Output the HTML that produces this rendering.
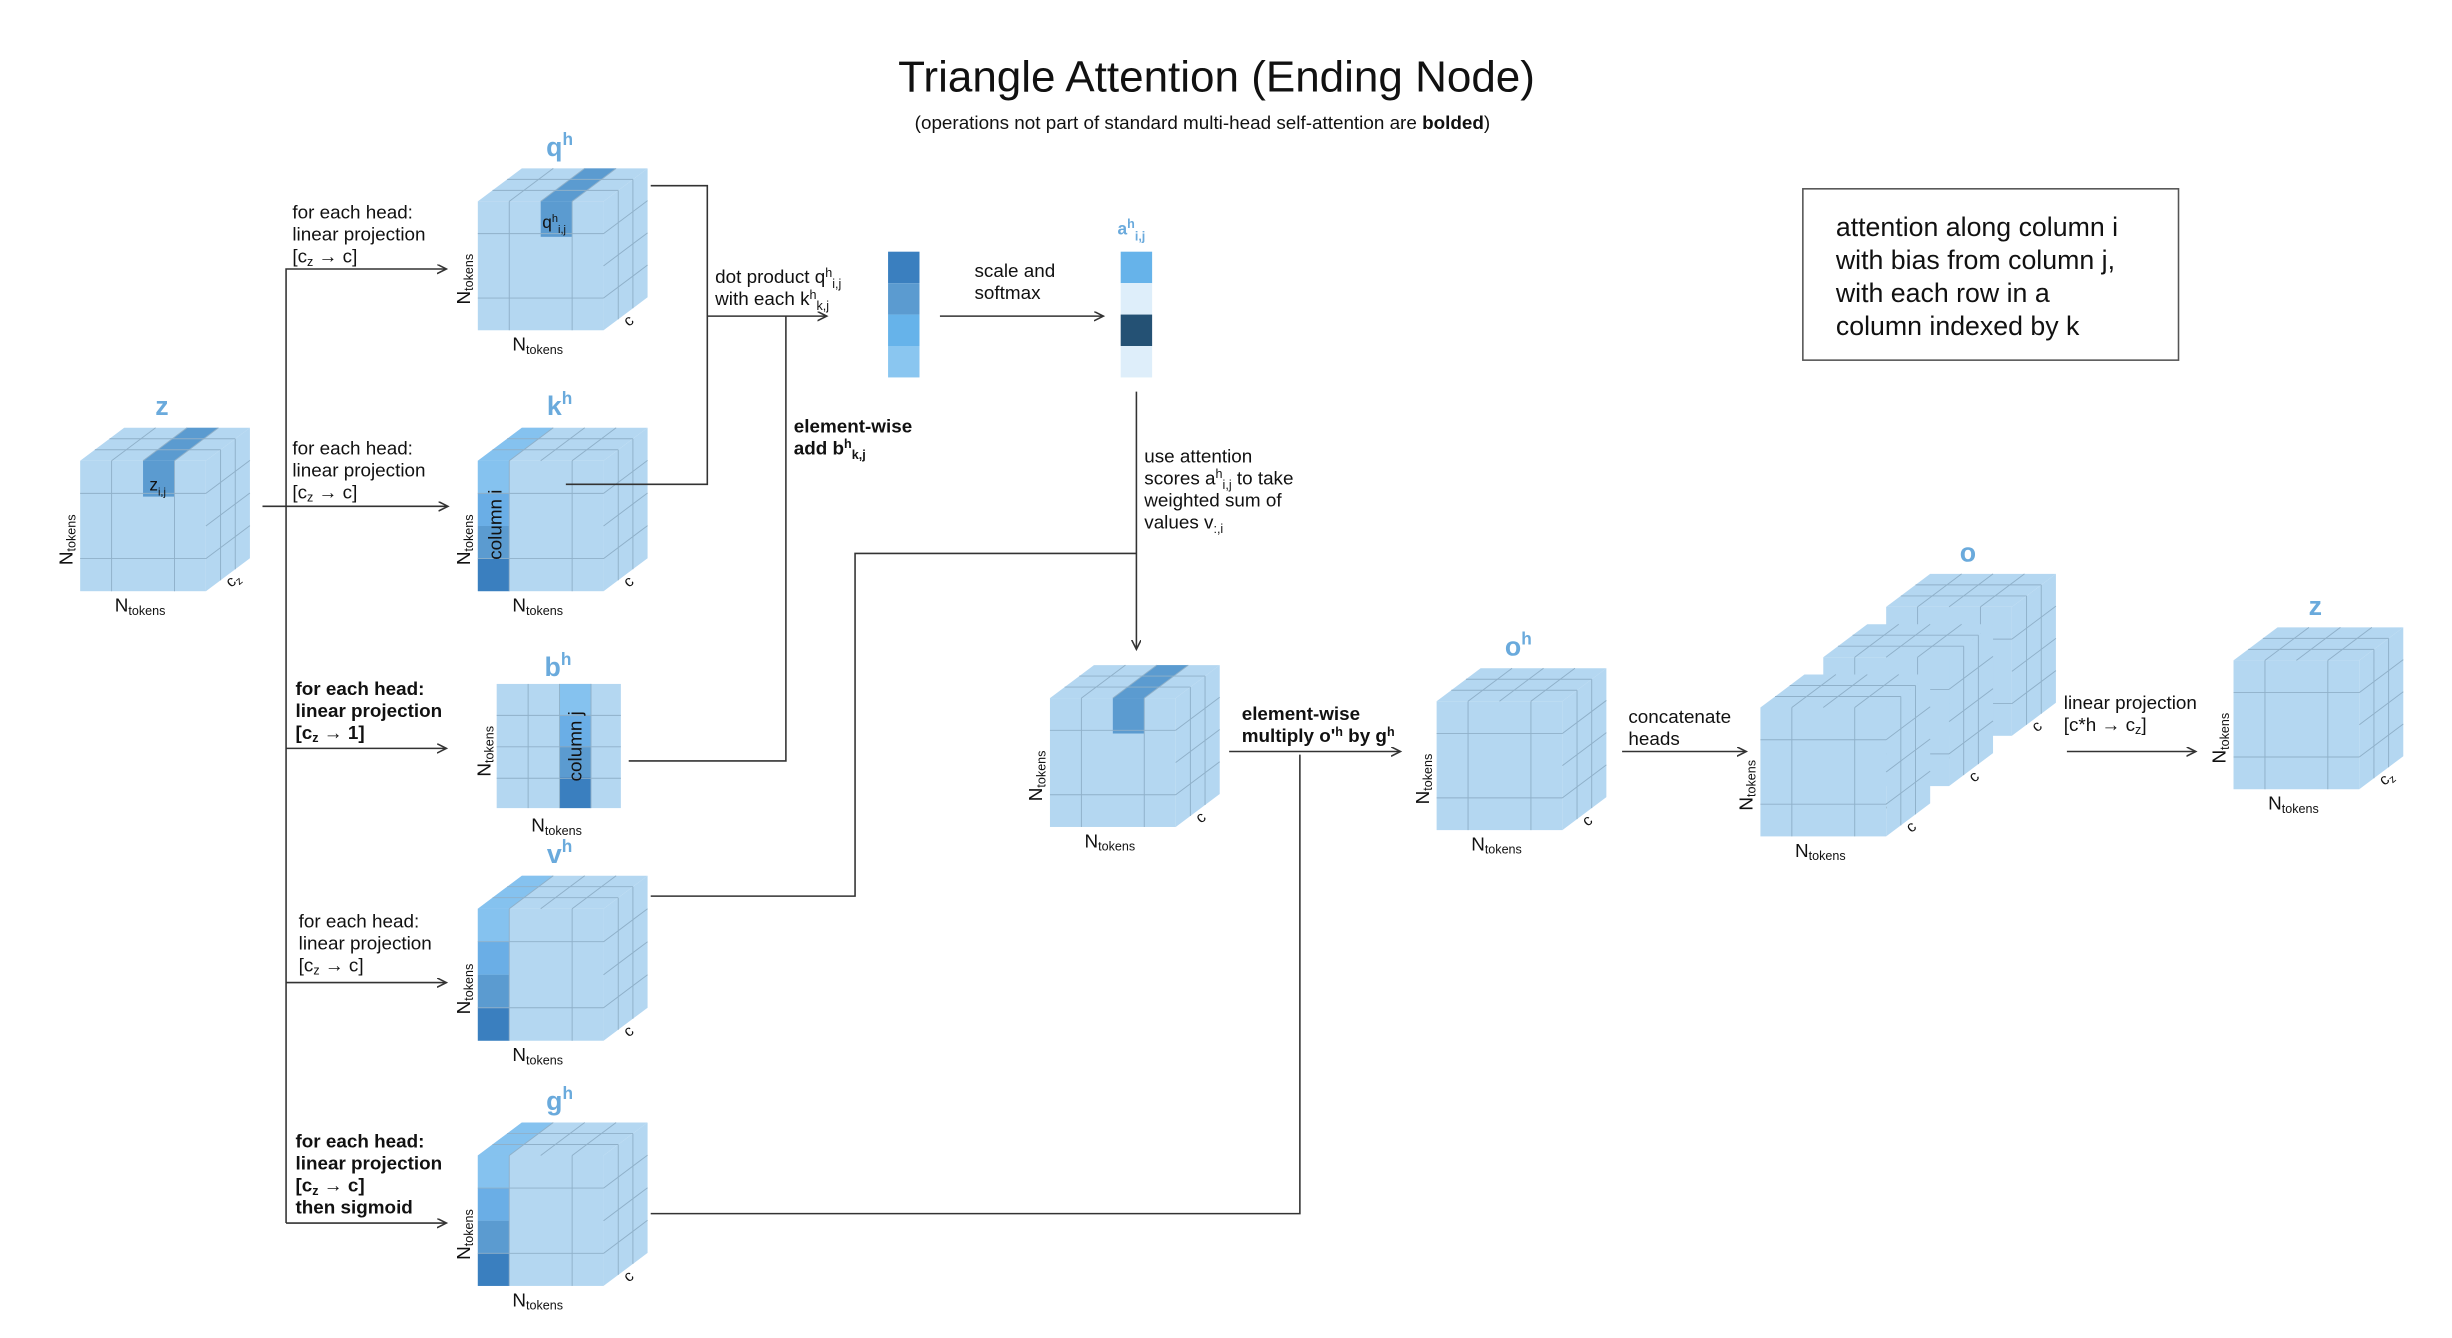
<!DOCTYPE html>
<html><head><meta charset="utf-8">
<style>
html,body{margin:0;padding:0;background:#fff;}
svg{display:block;}
text{font-family:"Liberation Sans",sans-serif;fill:#111;}
.lbl{font-size:12px;}
.b{font-weight:bold;}
.hd{font-size:17px;font-weight:bold;fill:#6aaadc;}
.ln{stroke:#333;stroke-width:1;fill:none;}
</style></head>
<body>
<svg id="s" width="2452" height="1338" viewBox="0 0 1560 851" xmlns="http://www.w3.org/2000/svg">
<defs>
<marker id="ar" markerWidth="8" markerHeight="8" refX="6" refY="3" orient="auto" markerUnits="userSpaceOnUse">
<path d="M0,0 L6,3 L0,6" fill="none" stroke="#333" stroke-width="1"/>
</marker>
</defs>
<text x="774" y="58" text-anchor="middle" font-size="28">Triangle Attention (Ending Node)</text>
<text x="765" y="82" text-anchor="middle" font-size="12">(operations not part of standard multi-head self-attention are <tspan class="b">bolded</tspan>)</text>

<g id="cubes"></g>

<g>
<path class="ln" d="M182,778 L182,171 L284,171" marker-end="url(#ar)"/>
<path class="ln" d="M167,322 L285,322" marker-end="url(#ar)"/>
<path class="ln" d="M182,476 L284,476" marker-end="url(#ar)"/>
<path class="ln" d="M182,625 L284,625" marker-end="url(#ar)"/>
<path class="ln" d="M182,778 L284,778" marker-end="url(#ar)"/>
<path class="ln" d="M414,118 L450,118 L450,308 L360,308"/>
<path class="ln" d="M450,201 L526,201" marker-end="url(#ar)"/>
<path class="ln" d="M400,484 L500,484 L500,201"/>
<path class="ln" d="M598,201 L702,201" marker-end="url(#ar)"/>
<path class="ln" d="M723,249 L723,413" marker-end="url(#ar)"/>
<path class="ln" d="M414,570 L544,570 L544,352 L723,352"/>
<path class="ln" d="M782,478 L891,478" marker-end="url(#ar)"/>
<path class="ln" d="M414,772 L827,772 L827,480"/>
<path class="ln" d="M1032,478 L1111,478" marker-end="url(#ar)"/>
<path class="ln" d="M1315,478 L1397,478" marker-end="url(#ar)"/>
</g>

<g>
<rect x="565" y="160" width="20" height="20" fill="#3a7fbf"/>
<rect x="565" y="180" width="20" height="20" fill="#5b9bd0"/>
<rect x="565" y="200" width="20" height="20" fill="#66b3ea"/>
<rect x="565" y="220" width="20" height="20" fill="#8ac6f0"/>
</g>
<g>
<rect x="713" y="160" width="20" height="20" fill="#66b3ea"/>
<rect x="713" y="180" width="20" height="20" fill="#deeefa"/>
<rect x="713" y="200" width="20" height="20" fill="#245174"/>
<rect x="713" y="220" width="20" height="20" fill="#deeefa"/>
</g>
<text x="711" y="149" font-size="11" font-weight="bold" style="fill:#6aaadc">a<tspan dy="-4" font-size="8">h</tspan><tspan dy="8" font-size="8">i,j</tspan></text>

<g class="lbl">
<text x="186" y="139">for each head:<tspan x="186" dy="14">linear projection</tspan><tspan x="186" dy="14">[c</tspan><tspan font-size="8" dy="2">z</tspan><tspan dy="-2"> → c]</tspan></text>
<text x="186" y="289">for each head:<tspan x="186" dy="14">linear projection</tspan><tspan x="186" dy="14">[c</tspan><tspan font-size="8" dy="2">z</tspan><tspan dy="-2"> → c]</tspan></text>
<text x="188" y="442" class="b">for each head:<tspan x="188" dy="14">linear projection</tspan><tspan x="188" dy="14">[c</tspan><tspan font-size="8" dy="2">z</tspan><tspan dy="-2"> → 1]</tspan></text>
<text x="190" y="590">for each head:<tspan x="190" dy="14">linear projection</tspan><tspan x="190" dy="14">[c</tspan><tspan font-size="8" dy="2">z</tspan><tspan dy="-2"> → c]</tspan></text>
<text x="188" y="730" class="b">for each head:<tspan x="188" dy="14">linear projection</tspan><tspan x="188" dy="14">[c</tspan><tspan font-size="8" dy="2">z</tspan><tspan dy="-2"> → c]</tspan><tspan x="188" dy="14">then sigmoid</tspan></text>
<text x="455" y="180">dot product q<tspan font-size="8" dy="-4">h</tspan><tspan font-size="8" dy="7">i,j</tspan><tspan x="455" dy="11">with each k</tspan><tspan font-size="8" dy="-4">h</tspan><tspan font-size="8" dy="7">k,j</tspan></text>
<text x="505" y="275" class="b">element-wise<tspan x="505" dy="14">add b</tspan><tspan font-size="8" dy="-4">h</tspan><tspan font-size="8" dy="7">k,j</tspan></text>
<text x="620" y="176">scale and<tspan x="620" dy="14">softmax</tspan></text>
<text x="728" y="294">use attention<tspan x="728" dy="14">scores a</tspan><tspan font-size="8" dy="-4">h</tspan><tspan font-size="8" dy="7">i,j</tspan><tspan dy="-3"> to take</tspan><tspan x="728" dy="14">weighted sum of</tspan><tspan x="728" dy="14">values v</tspan><tspan font-size="8" dy="3">:,i</tspan></text>
<text x="790" y="458" class="b">element-wise<tspan x="790" dy="14">multiply o'</tspan><tspan font-size="8" dy="-4">h</tspan><tspan dy="4"> by g</tspan><tspan font-size="8" dy="-4">h</tspan></text>
<text x="1036" y="460">concatenate<tspan x="1036" dy="14">heads</tspan></text>
<text x="1313" y="451">linear projection<tspan x="1313" dy="14">[c*h → c</tspan><tspan font-size="8" dy="2">z</tspan><tspan dy="-2">]</tspan></text>
</g>

<g>
<rect x="1147" y="120" width="239" height="109" fill="#fff" stroke="#555" stroke-width="1"/>
<text x="1168" y="150" font-size="17">attention along column i<tspan x="1168" dy="21">with bias from column j,</tspan><tspan x="1168" dy="21">with each row in a</tspan><tspan x="1168" dy="21">column indexed by k</tspan></text>
</g>

<script>
const NS='http://www.w3.org/2000/svg';
const G=document.getElementById('cubes');
const BASE='#b4d7f1', GRID='#8fb0c9';
function mk(tag,attrs,parent){const e=document.createElementNS(NS,tag);for(const k in attrs)e.setAttribute(k,attrs[k]);(parent||G).appendChild(e);return e;}
// segs: array of [string, fontSize|null, dy|null]
function txt(x,y,segs,attrs,parent){
  const t=mk('text',Object.assign({x:x,y:y},attrs||{}),parent);
  if(typeof segs==='string')segs=[[segs]];
  segs.forEach(s=>{
    const sp=document.createElementNS(NS,'tspan');
    if(s[1])sp.setAttribute('font-size',s[1]);
    if(s[2])sp.setAttribute('dy',s[2]);
    sp.textContent=s[0];
    t.appendChild(sp);
  });
  return t;
}
const NT=[['N'],['tokens',8,2]];
function cube(name,x,y,w,h,o){
  o=o||{};const dx=28,dy=21;
  const g=mk('g',{});
  
  
  const P=(a)=>a.map(p=>p.join(',')).join(' ');
  mk('polygon',{points:P([[x,y],[x+dx,y-dy],[x+w+dx,y-dy],[x+w,y]]),fill:BASE},g);
  mk('polygon',{points:P([[x+w,y],[x+w+dx,y-dy],[x+w+dx,y+h-dy],[x+w,y+h]]),fill:BASE},g);
  mk('rect',{x:x,y:y,width:w,height:h,fill:BASE},g);
  if(o.topCol!==undefined){const c=o.topCol,cw=w/4;
    mk('polygon',{points:P([[x+c*cw,y],[x+c*cw+dx,y-dy],[x+(c+1)*cw+dx,y-dy],[x+(c+1)*cw,y]]),fill:o.topColor},g);}
  if(o.cells){o.cells.forEach(cl=>{mk('rect',{x:x+cl[0]*w/4,y:y+cl[1]*h/4,width:w/4,height:cl[2]*h/4,fill:cl[3]},g);});}
  const ln=(x1,y1,x2,y2)=>mk('line',{x1:x1,y1:y1,x2:x2,y2:y2,stroke:GRID,'stroke-width':0.6},g);
  ln(x+w/4,y,x+w/4,y+h);ln(x+w*0.75,y,x+w*0.75,y+h);
  ln(x,y+h*0.25,x+w,y+h*0.25);ln(x,y+h*0.75,x+w,y+h*0.75);
  [1/3,2/3].forEach(f=>ln(x+w+dx*f,y-dy*f,x+w+dx*f,y+h-dy*f));
  [0.25,0.5,0.75].forEach(f=>ln(x+w,y+h*f,x+w+dx,y+h*f-dy));
  [0.25,0.5,0.75].forEach(f=>ln(x+w*f,y,x+w*f+dx,y-dy));
  [1/3,2/3].forEach(f=>ln(x+dx*f,y-dy*f,x+w+dx*f,y-dy*f));
  txt(x+w/2-18,y+h+13,NT,{'font-size':12},g);
  txt(0,0,NT,{'font-size':12,transform:'translate('+(x-5)+','+(y+h*0.8)+') rotate(-90)'},g);
  txt(x+w+16,y+h-2,o.depth||'c',{'font-size':10,transform:'rotate(-40 '+(x+w+16)+' '+(y+h-2)+')'},g);
  if(o.head){txt(x+w/2+12,y-dy-8,o.head,{'class':'hd','text-anchor':'middle'},g);}
  return g;
}
const C1='#85c2ef',C2='#6aaee6',C3='#5b9bd0',C4='#3a7fbf';
const colCells=[[0,0,1,C1],[0,1,1,C2],[0,2,1,C3],[0,3,1,C4]];
const H=(l)=>[[l],['h',11,-7]];
const CZ=[['c'],['z',7,2]];
const zc=cube('z-input-cube',51,293,80,83,{head:'z',topCol:2,topColor:C3,cells:[[2,0,1.1,C3]],depth:CZ});
txt(95,312,[['z'],['i,j',7,3]],{'font-size':11},zc);
const qc=cube('q-cube',304,128,80,82,{head:H('q'),topCol:2,topColor:C3,cells:[[2,0,1.1,C3]]});
txt(345,145,[['q'],['h',7,-4],['i,j',7,7]],{'font-size':11},qc);
const kc=cube('k-cube',304,293,80,83,{head:H('k'),topCol:0,topColor:C1,cells:colCells});
txt(0,0,'column i',{'font-size':12,transform:'translate(319,356) rotate(-90)'},kc);
cube('v-cube',304,578,80,84,{head:H('v'),topCol:0,topColor:C1,cells:colCells});
cube('g-cube',304,735,80,83,{head:H('g'),topCol:0,topColor:C1,cells:colCells});
cube('weighted-sum-cube',668,444,80,82,{topCol:2,topColor:C3,cells:[[2,0,1.1,C3]]});
cube('o-head-cube',914,446,80,82,{head:H('o')});
cube('o-concat-back',1200,386,80,82,{head:'o'});
cube('o-concat-mid',1160,418,80,82,{});
cube('o-concat-front',1120,450,80,82,{});
cube('z-output-cube',1421,420,80,82,{head:'z',depth:CZ});
const bg=mk('g',{});


mk('rect',{x:316,y:435,width:79,height:79,fill:BASE},bg);
[[0,C1],[1,C2],[2,C3],[3,C4]].forEach(c=>mk('rect',{x:356,y:435+c[0]*19.75,width:20,height:19.75,fill:c[1]},bg));
[336,356,376].forEach(v=>mk('line',{x1:v,y1:435,x2:v,y2:514,stroke:GRID,'stroke-width':0.6},bg));
[455,475,495].forEach(v=>mk('line',{x1:316,y1:v,x2:395,y2:v,stroke:GRID,'stroke-width':0.6},bg));
txt(0,0,'column j',{'font-size':12,transform:'translate(370,497) rotate(-90)'},bg);
txt(338,529,NT,{'font-size':12},bg);
txt(0,0,NT,{'font-size':12,transform:'translate(312,494) rotate(-90)'},bg);
txt(355,430,H('b'),{'class':'hd','text-anchor':'middle'},bg);
</script>
</svg>
</body></html>
